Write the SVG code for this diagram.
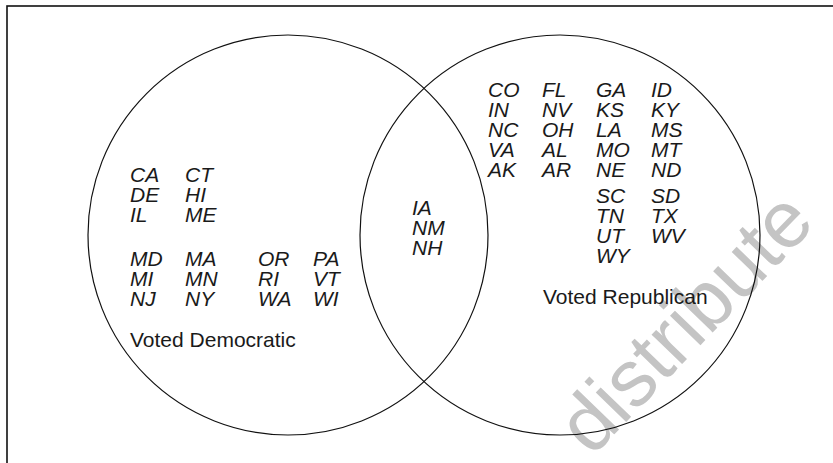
<svg xmlns="http://www.w3.org/2000/svg" width="833" height="463" viewBox="0 0 833 463">
  <style>
    .set { fill: none; stroke: #111; stroke-width: 1.2; }
    .st { font-family: "Liberation Sans", Arial, sans-serif; font-size: 21px; font-style: italic; fill: #1a1a1a; }
    .lbl { font-family: "Liberation Sans", Arial, sans-serif; font-size: 21px; fill: #1a1a1a; }
    .wm { font-family: "Liberation Sans", Arial, sans-serif; font-size: 80px; fill: #c4c4c4; }
  </style>
  <rect x="0" y="0" width="833" height="463" fill="#ffffff"/>
  <rect x="7" y="6" width="840" height="480" fill="none" stroke="#111" stroke-width="1.6"/>

  <g id="watermark">
    <text class="wm" transform="translate(690,327) rotate(-46)" x="0" y="20" text-anchor="middle">distribute</text>
  </g>

  <g id="democratic">
    <circle class="set" cx="288" cy="235" r="200"/>
    <text class="st"><tspan x="130" y="182">CA</tspan><tspan x="130" dy="20">DE</tspan><tspan x="130" dy="20">IL</tspan></text>
    <text class="st"><tspan x="185" y="182">CT</tspan><tspan x="185" dy="20">HI</tspan><tspan x="185" dy="20">ME</tspan></text>
    <text class="st"><tspan x="130" y="266">MD</tspan><tspan x="130" dy="20">MI</tspan><tspan x="130" dy="20">NJ</tspan></text>
    <text class="st"><tspan x="185" y="266">MA</tspan><tspan x="185" dy="20">MN</tspan><tspan x="185" dy="20">NY</tspan></text>
    <text class="st"><tspan x="258" y="266">OR</tspan><tspan x="258" dy="20">RI</tspan><tspan x="258" dy="20">WA</tspan></text>
    <text class="st"><tspan x="313" y="266">PA</tspan><tspan x="313" dy="20">VT</tspan><tspan x="313" dy="20">WI</tspan></text>
    <text class="lbl" x="130" y="347">Voted Democratic</text>
  </g>

  <g id="republican">
    <circle class="set" cx="560" cy="235" r="200"/>
    <text class="st"><tspan x="488" y="97">CO</tspan><tspan x="488" dy="20">IN</tspan><tspan x="488" dy="20">NC</tspan><tspan x="488" dy="20">VA</tspan><tspan x="488" dy="20">AK</tspan></text>
    <text class="st"><tspan x="542" y="97">FL</tspan><tspan x="542" dy="20">NV</tspan><tspan x="542" dy="20">OH</tspan><tspan x="542" dy="20">AL</tspan><tspan x="542" dy="20">AR</tspan></text>
    <text class="st"><tspan x="596" y="97">GA</tspan><tspan x="596" dy="20">KS</tspan><tspan x="596" dy="20">LA</tspan><tspan x="596" dy="20">MO</tspan><tspan x="596" dy="20">NE</tspan></text>
    <text class="st"><tspan x="651" y="97">ID</tspan><tspan x="651" dy="20">KY</tspan><tspan x="651" dy="20">MS</tspan><tspan x="651" dy="20">MT</tspan><tspan x="651" dy="20">ND</tspan></text>
    <text class="st"><tspan x="596" y="203">SC</tspan><tspan x="596" dy="20">TN</tspan><tspan x="596" dy="20">UT</tspan><tspan x="596" dy="20">WY</tspan></text>
    <text class="st"><tspan x="651" y="203">SD</tspan><tspan x="651" dy="20">TX</tspan><tspan x="651" dy="20">WV</tspan></text>
    <text class="lbl" x="543" y="304">Voted Republican</text>
  </g>

  <g id="both">
    <text class="st"><tspan x="412" y="215">IA</tspan><tspan x="412" dy="20">NM</tspan><tspan x="412" dy="20">NH</tspan></text>
  </g>
</svg>
